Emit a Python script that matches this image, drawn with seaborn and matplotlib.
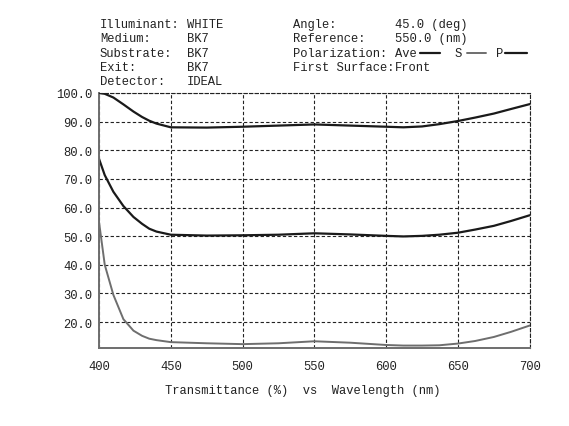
import matplotlib
matplotlib.use("Agg")
import pandas as pd
import matplotlib.pyplot as plt
import seaborn as sns

wavelength = [400, 404, 410, 417, 424, 430, 435, 440, 450, 475, 500, 525, 550,
              575, 600, 612, 625, 637, 650, 662, 675, 687, 700]
p_pol = [100.0, 99.7, 98.4, 96.0, 93.5, 91.6, 90.3, 89.3, 88.0, 87.9, 88.2, 88.6, 89.0,
         88.6, 88.2, 88.0, 88.3, 89.1, 90.2, 91.4, 92.8, 94.4, 96.1]
ave = [77.0, 71.3, 65.5, 60.5, 56.7, 54.3, 52.6, 51.6, 50.5, 50.2, 50.3, 50.5, 51.0,
       50.6, 50.1, 49.9, 50.1, 50.5, 51.2, 52.3, 53.6, 55.3, 57.3]
s_pol = [55.0, 40.0, 29.5, 21.0, 17.0, 15.2, 14.2, 13.7, 13.0, 12.6, 12.3, 12.6, 13.3,
         12.8, 12.0, 11.8, 11.8, 11.9, 12.5, 13.4, 14.8, 16.6, 18.8]

yticks = [20, 30, 40, 50, 60, 70, 80, 90, 100]
xticks = [400, 450, 500, 550, 600, 650, 700]

sns.set_style("white")
plt.rcParams['font.family'] = ['Liberation Mono', 'DejaVu Sans Mono']

df = pd.DataFrame({'wl': wavelength, 'P': p_pol, 'Ave': ave, 'S': s_pol})

fig = plt.figure(figsize=(5.69, 4.27), dpi=100)
ax = fig.add_axes([0.174, 0.183, 0.757, 0.597])

grey = '#6e6e6e'
ink = '#1a1a1a'
sns.lineplot(data=df, x='wl', y='P', color=ink, linewidth=1.6, ax=ax)
sns.lineplot(data=df, x='wl', y='Ave', color=ink, linewidth=1.6, ax=ax)
sns.lineplot(data=df, x='wl', y='S', color=grey, linewidth=1.4, ax=ax)

ax.set_xlim(400, 700)
ax.set_ylim(11, 100)
ax.set_xticks(xticks)
ax.set_yticks(yticks)
ax.set_yticklabels([f"{v:.1f}" for v in yticks])
ax.set_xlabel('')
ax.set_ylabel('')
ax.tick_params(length=0, labelsize=8.7, colors='#222222')
ax.tick_params(axis='y', pad=5)
ax.tick_params(axis='x', pad=9)
ax.grid(True, color='#222222', linestyle=(0, (3, 2)), linewidth=0.8)
for side in ['left', 'bottom']:
    ax.spines[side].set_color(grey)
    ax.spines[side].set_linewidth(1.4)
for side in ['top', 'right']:
    ax.spines[side].set_color('#222222')
    ax.spines[side].set_linestyle((0, (3, 2)))
    ax.spines[side].set_linewidth(0.8)

# header block
fs = 8.7
rows = [("Illuminant:", "WHITE", "Angle:", "45.0 (deg)"),
        ("Medium:", "BK7", "Reference:", "550.0 (nm)"),
        ("Substrate:", "BK7", "Polarization:", "Ave"),
        ("Exit:", "BK7", "First Surface:", "Front"),
        ("Detector:", "IDEAL", "", "")]
for i, (a, b, c, d) in enumerate(rows):
    y = 1 - (25 + i * 14.3) / 427
    fig.text(100 / 569, y, a, fontsize=fs, va='center', color='#222222')
    fig.text(187 / 569, y, b, fontsize=fs, va='center', color='#222222')
    fig.text(293 / 569, y, c, fontsize=fs, va='center', color='#222222')
    fig.text(395 / 569, y, d, fontsize=fs, va='center', color='#222222')

ly = 1 - (25 + 2 * 14.3) / 427
fig.text(455 / 569, ly, "S", fontsize=fs, va='center', color='#222222')
fig.text(496 / 569, ly, "P", fontsize=fs, va='center', color='#222222')
fig.add_artist(plt.Line2D([420 / 569, 440 / 569], [ly, ly], color=ink, linewidth=1.6))
fig.add_artist(plt.Line2D([467 / 569, 486 / 569], [ly, ly], color=grey, linewidth=1.4))
fig.add_artist(plt.Line2D([505 / 569, 527 / 569], [ly, ly], color=ink, linewidth=1.6))

fig.text(165 / 569, 1 - 391 / 427, "Transmittance (%)  vs  Wavelength (nm)",
         fontsize=fs, va='center', color='#222222')

fig.savefig('out.png', dpi=100)
